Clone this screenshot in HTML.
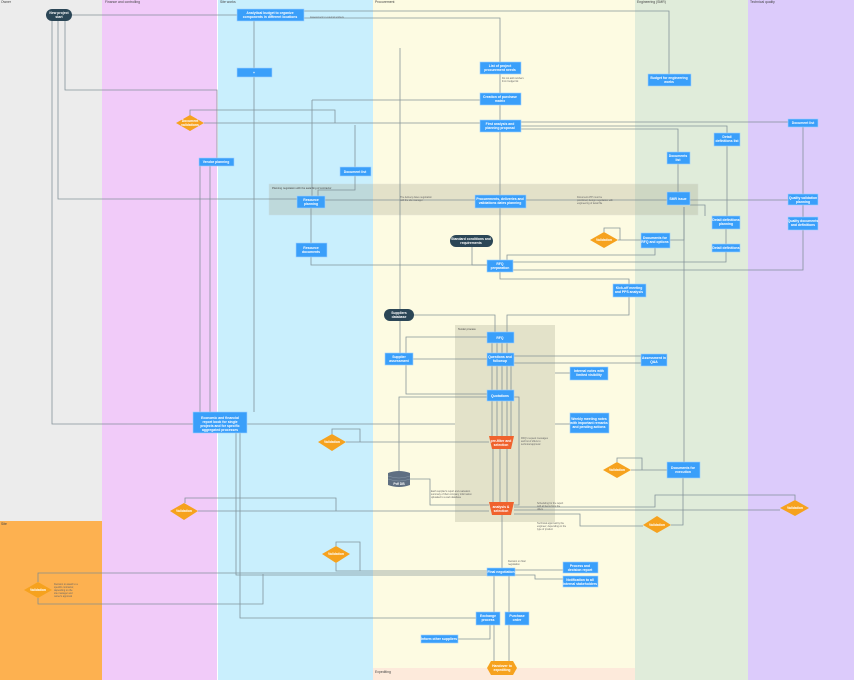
<!DOCTYPE html>
<html><head><meta charset="utf-8"><style>
html,body{margin:0;padding:0;background:#fff}
svg{display:block;font-family:"Liberation Sans",sans-serif}
.b{fill:#3a9ffa;stroke:#9fd0ff;stroke-width:.6}
.t{fill:#fff;font-size:3.4px;text-anchor:middle;font-weight:bold}
.d{fill:#f6a21e}
.l{fill:none;stroke:#7a8a91;stroke-width:.8;opacity:.9}
.h{font-size:3.4px;fill:#444}
.n{font-size:2.4px;fill:#666}
</style></head><body>
<svg width="854" height="680" viewBox="0 0 854 680">
<rect x="0" y="0" width="102" height="521" fill="#ececec"/>
<rect x="0" y="521" width="102" height="159" fill="#fdb150"/>
<rect x="102" y="0" width="115" height="680" fill="#f1cbf9"/>
<rect x="218" y="0" width="155" height="680" fill="#c9effd"/>
<rect x="373" y="0" width="262" height="680" fill="#fdfbe2"/>
<rect x="373" y="668" width="262" height="12" fill="#fdeadb"/>
<rect x="635" y="0" width="113" height="680" fill="#e0ecda"/>
<rect x="748" y="0" width="106" height="680" fill="#dccbfb"/>
<g class="h">
<text x="1" y="3">Owner</text><text x="105" y="3">Finance and controlling</text><text x="220" y="3">Site works</text>
<text x="375" y="3">Procurement</text><text x="637" y="3">Engineering (SMR)</text><text x="750" y="3">Technical quality</text>
<text x="1" y="525">Site</text><text x="375" y="673">Expediting</text>
</g>
<rect x="269" y="184" width="429" height="31" fill="#a8a890" opacity=".3" stroke="#bbb" stroke-width=".5"/>
<text x="272" y="189" class="h" style="font-size:2.6px">Planning negotiation with the awarding of contractor</text>
<rect x="455" y="325" width="100" height="197" fill="#a8a890" opacity=".3"/>
<text x="458" y="330" class="h" style="font-size:2.6px">Tender process</text>
<g class="l">
<path d="M72 15H237"/><path d="M304 11H669V74"/><path d="M304 18H500V62"/>
<path d="M254 21V68"/><path d="M254 77V412"/>
<path d="M52 21V424H193"/><path d="M58 21V199H297"/><path d="M65 21V90H217V158"/>
<path d="M500 74V93"/><path d="M500 105V120"/><path d="M500 132V195"/><path d="M500 208V260"/>
<path d="M312 100H480"/><path d="M312 100V196"/><path d="M204 123H480"/><path d="M190 131V110H335V123"/>
<path d="M521 122H788"/><path d="M521 126H727V133"/><path d="M521 129H678V152"/>
<path d="M803 127V194"/><path d="M803 205V217"/><path d="M803 230V270H513"/>
<path d="M678 164V192"/><path d="M690 200H788"/><path d="M690 205H705V216"/><path d="M727 146V216"/>
<path d="M726 229V244"/><path d="M726 252V262H513"/>
<path d="M325 200H475"/><path d="M526 200H667"/><path d="M355 176V190H318V196"/><path d="M355 167V125"/>
<path d="M311 208V243"/><path d="M311 257V265H487"/><path d="M472 247V265H487"/>
<path d="M618 240H641"/><path d="M604 232V228H620V240"/><path d="M670 240H684V207"/><path d="M655 248V255H507V260"/>
<path d="M684 207V470"/>
<path d="M500 272V279H629V284"/><path d="M629 297V315H507V332"/><path d="M414 315H495V332"/>
<path d="M487 337H406V353"/><path d="M413 359H487"/><path d="M514 356H641"/><path d="M514 363H641"/>
<path d="M492 343V353M497 343V353M502 343V353M507 343V353"/>
<path d="M492 366V390M497 366V390M502 366V390M507 366V390M511 366V390"/>
<path d="M492 401V436M497 401V436M502 401V436M507 401V436M511 401V436"/>
<path d="M493 449V502M500 449V502M507 449V502"/>
<path d="M406 365V394H487"/><path d="M487 397H399V471"/><path d="M555 424H570"/><path d="M570 373H555"/>
<path d="M455 424H247"/><path d="M346 442H489"/><path d="M332 434V429H360V442"/>
<path d="M400 48V360H406"/>
<path d="M198 511H489"/><path d="M185 503V498H336V511"/><path d="M410 479H430V505H489"/>
<path d="M514 505H519V397H514"/><path d="M631 470H667"/><path d="M617 462V458H642V470"/>
<path d="M683 478V525H671"/><path d="M514 510H780"/><path d="M514 507H655V495H795V500"/>
<path d="M514 514H580V526H643"/>
<path d="M502 515V568"/><path d="M236 433V575H487"/><path d="M336 563V571H487"/><path d="M336 546V542H360V571"/>
<path d="M487 573H38V582"/><path d="M38 598V604H263V574"/><path d="M515 570H563"/><path d="M515 575H535V579H563"/>
<path d="M494 576V612"/><path d="M509 576V612"/><path d="M476 618H240V433"/><path d="M490 625V639H458"/>
<path d="M494 625V661"/><path d="M509 625V661"/><path d="M200 166V415"/><path d="M210 166V412"/>
</g>
<rect x="46" y="9" width="26" height="12" rx="6" fill="#2b4656"/><text x="59" y="14" class="t">New project</text><text x="59" y="18" class="t">start</text>
<rect x="450" y="235" width="43" height="12" rx="6" fill="#2b4656"/><text x="471" y="240" class="t">Standard conditions and</text><text x="471" y="244" class="t">requirements</text>
<rect x="384" y="309" width="30" height="12" rx="6" fill="#2b4656"/><text x="399" y="314" class="t">Suppliers</text><text x="399" y="318" class="t">database</text>
<g>
<rect class="b" x="237" y="9" width="67" height="12"/><text x="270" y="14" class="t">Analytical budget to organize</text><text x="270" y="18" class="t">components in different locations</text>
<rect class="b" x="237" y="68" width="35" height="9"/><text x="254" y="74" class="t">+</text>
<rect class="b" x="480" y="62" width="41" height="12"/><text x="500" y="67" class="t">List of project</text><text x="500" y="71" class="t">procurement needs</text>
<rect class="b" x="480" y="93" width="41" height="12"/><text x="500" y="98" class="t">Creation of purchase</text><text x="500" y="102" class="t">matrix</text>
<rect class="b" x="480" y="120" width="41" height="12"/><text x="500" y="125" class="t">First analysis and</text><text x="500" y="129" class="t">planning proposal</text>
<rect class="b" x="648" y="74" width="43" height="12"/><text x="669" y="79" class="t">Budget for engineering</text><text x="669" y="83" class="t">works</text>
<rect class="b" x="788" y="119" width="30" height="8"/><text x="803" y="124" class="t">Document list</text>
<rect class="b" x="714" y="133" width="26" height="13"/><text x="727" y="138" class="t">Detail</text><text x="727" y="142" class="t">definitions list</text>
<rect class="b" x="667" y="152" width="23" height="12"/><text x="678" y="157" class="t">Documents</text><text x="678" y="161" class="t">list</text>
<rect class="b" x="199" y="158" width="35" height="8"/><text x="216" y="163" class="t">Vendor planning</text>
<rect class="b" x="340" y="167" width="31" height="9"/><text x="355" y="173" class="t">Document list</text>
<rect class="b" x="297" y="196" width="28" height="12"/><text x="311" y="201" class="t">Resource</text><text x="311" y="205" class="t">planning</text>
<rect class="b" x="475" y="195" width="51" height="13"/><text x="500" y="200" class="t">Procurements, deliveries and</text><text x="500" y="204" class="t">validations dates planning</text>
<rect class="b" x="667" y="192" width="23" height="13"/><text x="678" y="200" class="t">SMR issue</text>
<rect class="b" x="788" y="194" width="30" height="11"/><text x="803" y="199" class="t">Quality validation</text><text x="803" y="203" class="t">planning</text>
<rect class="b" x="788" y="217" width="30" height="13"/><text x="803" y="222" class="t">Quality documents</text><text x="803" y="226" class="t">and definitions</text>
<rect class="b" x="712" y="216" width="28" height="13"/><text x="726" y="221" class="t">Detail definitions</text><text x="726" y="225" class="t">planning</text>
<rect class="b" x="712" y="244" width="28" height="8"/><text x="726" y="249" class="t">Detail definitions</text>
<rect class="b" x="296" y="243" width="31" height="14"/><text x="311" y="249" class="t">Resource</text><text x="311" y="253" class="t">documents</text>
<rect class="b" x="641" y="233" width="29" height="15"/><text x="655" y="239" class="t">Documents for</text><text x="655" y="243" class="t">RFQ and options</text>
<rect class="b" x="487" y="260" width="26" height="12"/><text x="500" y="265" class="t">RFQ</text><text x="500" y="269" class="t">preparation</text>
<rect class="b" x="613" y="284" width="33" height="13"/><text x="629" y="289" class="t">Kick-off meeting</text><text x="629" y="293" class="t">and PPS analysis</text>
<rect class="b" x="487" y="332" width="27" height="11"/><text x="500" y="339" class="t">RFQ</text>
<rect class="b" x="385" y="353" width="28" height="12"/><text x="399" y="358" class="t">Supplier</text><text x="399" y="362" class="t">assessment</text>
<rect class="b" x="487" y="353" width="27" height="13"/><text x="500" y="358" class="t">Questions and</text><text x="500" y="362" class="t">followup</text>
<rect class="b" x="641" y="354" width="26" height="12"/><text x="654" y="359" class="t">Assessment in</text><text x="654" y="363" class="t">Q&amp;A</text>
<rect class="b" x="570" y="367" width="38" height="13"/><text x="589" y="372" class="t">Internal notes with</text><text x="589" y="376" class="t">limited visibility</text>
<rect class="b" x="487" y="390" width="27" height="11"/><text x="500" y="397" class="t">Quotations</text>
<rect class="b" x="193" y="412" width="54" height="21"/><text x="220" y="419" class="t">Economic and financial</text><text x="220" y="423" class="t">report book for single</text><text x="220" y="427" class="t">projects and for specific</text><text x="220" y="431" class="t">aggregated processes</text>
<rect class="b" x="570" y="413" width="39" height="20"/><text x="589" y="420" class="t">Weekly meeting notes</text><text x="589" y="424" class="t">with important remarks</text><text x="589" y="428" class="t">and pending actions</text>
<rect class="b" x="667" y="462" width="33" height="16"/><text x="683" y="469" class="t">Documents for</text><text x="683" y="473" class="t">execution</text>
<rect class="b" x="487" y="568" width="28" height="8"/><text x="501" y="573" class="t">Final negotiation</text>
<rect class="b" x="563" y="562" width="35" height="11"/><text x="580" y="567" class="t">Process and</text><text x="580" y="571" class="t">decision report</text>
<rect class="b" x="563" y="576" width="35" height="11"/><text x="580" y="581" class="t">Notification to all</text><text x="580" y="585" class="t">internal stakeholders</text>
<rect class="b" x="476" y="612" width="24" height="13"/><text x="488" y="617" class="t">Exchange</text><text x="488" y="621" class="t">process</text>
<rect class="b" x="505" y="612" width="24" height="13"/><text x="517" y="617" class="t">Purchase</text><text x="517" y="621" class="t">order</text>
<rect class="b" x="421" y="635" width="37" height="8"/><text x="439" y="640" class="t">Inform other suppliers</text>
</g>
<g>
<polygon class="d" points="176,123 190,115 204,123 190,131"/><text x="190" y="122" class="t">Document</text><text x="190" y="126" class="t">validations</text>
<polygon class="d" points="590,240 604,232 618,240 604,248"/><text x="604" y="241" class="t">Validation</text>
<polygon class="d" points="318,442 332,434 346,442 332,451"/><text x="332" y="443" class="t">Validation</text>
<polygon class="d" points="603,470 617,462 631,470 617,478"/><text x="617" y="471" class="t">Validation</text>
<polygon class="d" points="170,511 184,503 198,511 184,520"/><text x="184" y="512" class="t">Validation</text>
<polygon class="d" points="780,508 795,500 809,508 795,516"/><text x="795" y="509" class="t">Validation</text>
<polygon class="d" points="643,525 657,516 671,525 657,533"/><text x="657" y="526" class="t">Validation</text>
<polygon class="d" points="322,554 336,546 350,554 336,563"/><text x="336" y="555" class="t">Validation</text>
<polygon class="d" points="24,590 38,582 52,590 38,598"/><text x="38" y="591" class="t">Validation</text>
</g>
<polygon points="489,436 514,436 511,449 492,449" fill="#f0622d"/><text x="501" y="442" class="t">pre-filter and</text><text x="501" y="446" class="t">selection</text>
<polygon points="489,502 514,502 511,515 492,515" fill="#f0622d"/><text x="501" y="508" class="t">analysis &amp;</text><text x="501" y="512" class="t">selection</text>
<path d="M388 473Q399 469 410 473V485Q399 489 388 485Z" fill="#5f6f82"/><path d="M388 476Q399 480 410 476M388 479Q399 483 410 479" stroke="#8898a8" stroke-width=".5" fill="none"/><text x="399" y="485" class="t">Pdf DB</text>
<polygon points="491,661 513,661 517,668 513,675 491,675 487,668" fill="#f6a21e"/><text x="502" y="667" class="t">Handover to</text><text x="502" y="671" class="t">expediting</text>
<g class="n">
<text x="310" y="18">Assessment to external workers</text>
<text x="502" y="79">Do not add numbers</text><text x="502" y="82">from budget list</text>
<text x="400" y="198">The delivery dates negotiation</text><text x="400" y="201">with the site manager</text>
<text x="577" y="198">Document ATP must be</text><text x="577" y="201">prioritized, design negotiation with</text><text x="577" y="204">engineering of detail file</text>
<text x="521" y="439">RFQ's request messages</text><text x="521" y="442">and list of offers to</text><text x="521" y="445">technical approval</text>
<text x="431" y="492">Each supplier's report and evaluation</text><text x="431" y="495">summary of their company information</text><text x="431" y="498">uploaded to a web database</text>
<text x="537" y="504">Scheduling for the report</text><text x="537" y="507">with all items from the</text><text x="537" y="510">offers</text>
<text x="537" y="524">Technical approval by the</text><text x="537" y="527">engineer; depending on the</text><text x="537" y="530">type of product</text>
<text x="508" y="562">Decision on final</text><text x="508" y="565">negotiation</text>
<text x="54" y="585">Decision to award to a</text><text x="54" y="588">specific contractor,</text><text x="54" y="591">depending on the</text><text x="54" y="594">site manager and</text><text x="54" y="597">owner's approval</text>
</g>
</svg>
</body></html>
